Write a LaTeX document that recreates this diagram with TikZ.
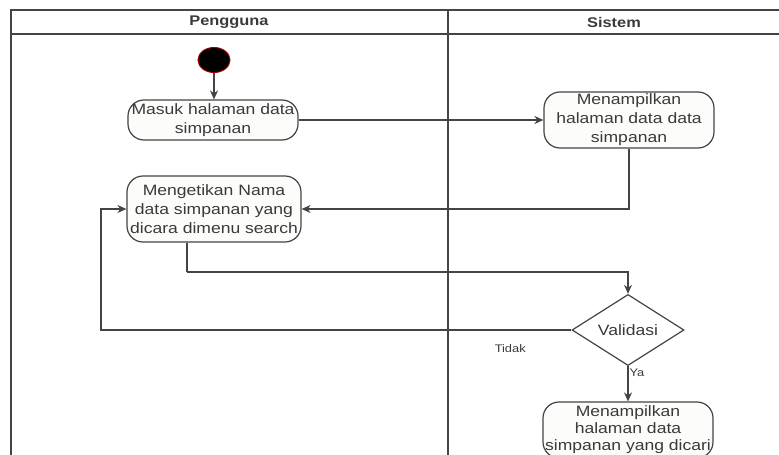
\documentclass[tikz,border=0pt]{standalone}
\usepackage{fontspec}
\setmainfont{Liberation Sans}[FakeStretch=1.17]
\usetikzlibrary{arrows.meta,shapes.geometric}
\definecolor{lineclr}{HTML}{444444}
\definecolor{txtclr}{HTML}{3A3A3A}
\definecolor{boxfill}{HTML}{FCFCFA}
\tikzset{
  lane/.style={draw=lineclr, line width=1.6pt},
  act/.style={draw=lineclr, fill=boxfill, line width=1.2pt, rounded corners=16pt,
    inner sep=0pt, align=center, text=txtclr,
    font=\fontsize{15}{19}\selectfont},
  decision/.style={diamond, draw=lineclr, fill=white, line width=1.2pt, inner sep=0pt,
    minimum width=112pt, minimum height=44pt, text=txtclr,
    font=\fontsize{15}{19}\selectfont},
  startnode/.style={ellipse, fill=black, draw=red!60!black, line width=1pt,
    minimum width=32pt, minimum height=25pt, inner sep=0pt},
  flow/.style={draw=lineclr, line width=1.2pt, -{Stealth[length=9pt,width=8pt]}},
  plain/.style={draw=lineclr, line width=1.2pt},
  lanetitle/.style={text=txtclr, font=\bfseries\fontsize{14}{16}\selectfont},
  edgelabel/.style={text=txtclr, font=\fontsize{11}{13}\selectfont, inner sep=1pt}
}
\begin{document}
\begin{tikzpicture}[x=1pt, y=-1pt]
\useasboundingbox (0,0) rectangle (779,455);
\begin{scope}
\clip (0,0) rectangle (779,455);

% swimlane frame
\draw[lane] (11,470) -- (11,10) -- (790,10);
\draw[lane] (11,34) -- (790,34);
\draw[lane] (448,10) -- (448,470);
\node[lanetitle] (lanea) at (229,22) {Pengguna};
\node[lanetitle] (laneb) at (614,22) {Sistem};

% activities
\node[startnode] (start) at (214,60) {};
\node[act, minimum width=170pt, minimum height=40pt] (masuk) at (213,120)
  {Masuk halaman data\\simpanan};
\node[act, minimum width=170pt, minimum height=56pt] (tampil) at (629,120)
  {Menampilkan\\halaman data data\\simpanan};
\node[act, minimum width=174pt, minimum height=66pt] (ketik) at (214,209)
  {Mengetikan Nama\\data simpanan yang\\dicara dimenu search};
\node[decision] (valid) at (628,330) {Validasi};
\node[act, minimum width=170pt, minimum height=56pt,
  font=\fontsize{15}{17}\selectfont] (hasil) at (628,430)
  {Menampilkan\\halaman data\\simpanan yang dicari};

% helper points for the orthogonal routes
\coordinate (down) at (187,272);
\coordinate (back) at (101,330);

% flows
\draw[flow] (start.south) -- (start.south |- masuk.north);
\draw[flow] (masuk.east) -- (tampil.west);
\draw[flow] (tampil.south) |- (ketik.east);
\draw[plain] (ketik.south -| down) -- (down);
\draw[flow] (down) -| (valid.north);
\draw[flow] (valid.west) -- node[edgelabel, pos=0.13, below=13pt] {Tidak} (back) |- (ketik.west);
\draw[flow] (valid.south) -- node[edgelabel, pos=0.2, anchor=west] {Ya} (hasil.north);
\end{scope}
\end{tikzpicture}
\end{document}
